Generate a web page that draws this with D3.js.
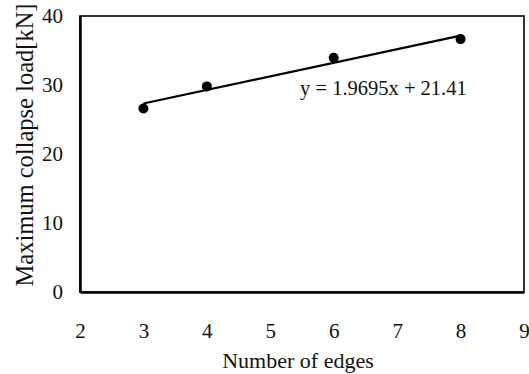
<!DOCTYPE html>
<html>
<head>
<meta charset="utf-8">
<script src="https://cdn.jsdelivr.net/npm/d3@7.9.0/dist/d3.min.js"></script>
<style>
  body { margin: 0; background: #fff; }
  svg { display: block; }
  svg text { font-family: "Liberation Serif", "Times New Roman", serif; }
</style>
</head>
<body>
<svg id="chart" width="529" height="374"></svg>
<script>
// data
const edges = [3, 4, 6, 8];
const collapseLoad = [26.6, 29.8, 33.95, 36.65];
const xTicks = [2, 3, 4, 5, 6, 7, 8, 9];
const yTicks = [0, 10, 20, 30, 40];
const fitSlope = 1.9695;
const fitIntercept = 21.41;
const fitLabel = 'y = 1.9695x + 21.41';

const width = 529, height = 374;
const margin = { top: 16, right: 5, bottom: 82, left: 80 };

const svg = d3.select('#chart');

const x = d3.scaleLinear().domain([2, 9]).range([margin.left, width - margin.right]);
const y = d3.scaleLinear().domain([0, 40]).range([height - margin.bottom, margin.top]);

// frame
svg.append('rect')
  .attr('x', x(2)).attr('y', y(40))
  .attr('width', x(9) - x(2)).attr('height', y(0) - y(40))
  .attr('fill', 'none').attr('stroke', '#000').attr('stroke-width', 1.6);

// axes (no tick marks, labels only)
const xAxis = svg.append('g')
  .attr('transform', `translate(0,${y(0)})`)
  .call(d3.axisBottom(x).tickValues(xTicks).tickFormat(d3.format('d')).tickSize(0).tickPadding(31));
xAxis.attr('font-family', null);
xAxis.select('.domain').attr('stroke-width', 2.5);
xAxis.selectAll('text').attr('font-size', 21).attr('fill', '#111');

const yAxis = svg.append('g')
  .attr('transform', `translate(${x(2)},0)`)
  .call(d3.axisLeft(y).tickValues(yTicks).tickFormat(d3.format('d')).tickSize(0).tickPadding(17));
yAxis.attr('font-family', null);
yAxis.select('.domain').attr('stroke-width', 2.5);
yAxis.selectAll('text').attr('font-size', 21).attr('fill', '#111');

// trendline
const fitX = [d3.min(edges), d3.max(edges)];
svg.append('line')
  .attr('x1', x(fitX[0])).attr('y1', y(fitSlope * fitX[0] + fitIntercept))
  .attr('x2', x(fitX[1])).attr('y2', y(fitSlope * fitX[1] + fitIntercept))
  .attr('stroke', '#000').attr('stroke-width', 2.2);

// points
svg.append('g').selectAll('circle')
  .data(edges.map((e, i) => ({ e, v: collapseLoad[i] })))
  .join('circle')
  .attr('cx', d => x(d.e))
  .attr('cy', d => y(d.v))
  .attr('r', 5)
  .attr('fill', '#000');

// equation
svg.append('text')
  .attr('x', x(5.47)).attr('y', y(28.55))
  .attr('font-size', 20.5)
  .attr('fill', '#111')
  .text(fitLabel);

// axis titles
svg.append('text')
  .attr('x', 298).attr('y', 368)
  .attr('text-anchor', 'middle')
  .attr('font-size', 22)
  .attr('fill', '#111')
  .text('Number of edges');

svg.append('text')
  .attr('transform', `translate(33,145) rotate(-90)`)
  .attr('text-anchor', 'middle')
  .attr('font-size', 24.5)
  .attr('fill', '#111')
  .text('Maximum collapse load[kN]');
</script>
</body>
</html>
